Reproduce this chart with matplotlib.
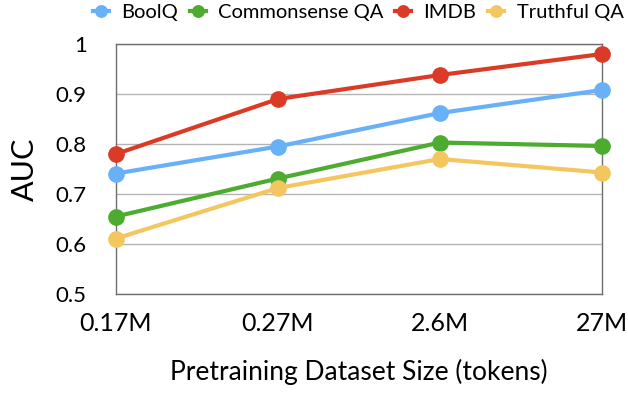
import matplotlib
matplotlib.use('Agg')
import matplotlib.pyplot as plt

plt.rcParams['font.family'] = ['Lato', 'DejaVu Sans']

sizes = ['0.17M', '0.27M', '2.6M', '27M']
boolq = [0.741, 0.795, 0.862, 0.908]
commonsense = [0.655, 0.731, 0.803, 0.796]
imdb = [0.780, 0.890, 0.938, 0.980]
truthful = [0.611, 0.712, 0.770, 0.743]

series = [
    ('BoolQ', boolq, '#68b0f7'),
    ('Commonsense QA', commonsense, '#4dab30'),
    ('IMDB', imdb, '#db3b26'),
    ('Truthful QA', truthful, '#f3c65f'),
]

fig = plt.figure(figsize=(6.28, 3.94), dpi=100)
ax = fig.add_axes([116/628, 1 - 294/394, 486/628, 250/394])

x = list(range(len(sizes)))
for name, vals, col in series:
    ax.plot(x, vals, '-o', color=col, lw=3, ms=11, label=name, clip_on=False, zorder=3)

ax.set_xlim(0, 3)
ax.set_ylim(0.5, 1.0)
ax.set_xticks(x)
ax.set_xticklabels(sizes)
yt = [0.5, 0.6, 0.7, 0.8, 0.9, 1.0]
ax.set_yticks(yt)
ax.set_yticklabels(['0.5', '0.6', '0.7', '0.8', '0.9', '1'])
ax.tick_params(length=0, colors='black')
ax.tick_params(axis='y', pad=21, labelsize=16)
ax.tick_params(axis='x', pad=13, labelsize=18)
ax.grid(axis='y', color='#b4b4b4', lw=1)
ax.set_axisbelow(True)
for s in ax.spines.values():
    s.set_color('#6e6e6e')
    s.set_linewidth(1)

ax.set_xlabel('Pretraining Dataset Size (tokens)', fontsize=19, labelpad=17)
ax.set_ylabel('AUC', fontsize=22, labelpad=12)

fig.legend(loc='upper center', bbox_to_anchor=(0.57, 1.03), ncol=4, frameon=False,
           fontsize=14.5, handlelength=0.8, handletextpad=0.6, columnspacing=0.6,
           markerscale=0.75, borderpad=0.3)

fig.savefig('out.png', dpi=100)
